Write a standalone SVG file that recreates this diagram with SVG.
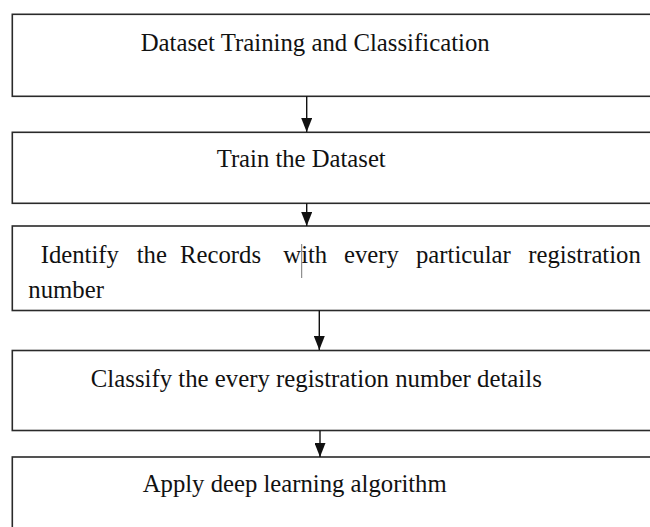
<svg xmlns="http://www.w3.org/2000/svg" width="650" height="527" viewBox="0 0 650 527">
<style>
.box{fill:#ffffff;stroke:#2a2a2a;stroke-width:1.6}
.t{font-family:"Liberation Serif","Times New Roman",serif;font-size:26px;fill:#111}
.con{stroke:#111;stroke-width:1.4;fill:none}
</style>
<defs>
<marker id="ah" markerWidth="14" markerHeight="11" refX="14" refY="5.5" orient="auto" markerUnits="userSpaceOnUse" viewBox="0 0 14 11">
<path d="M0,0 L14,5.5 L0,11 Z" fill="#111"/>
</marker>
</defs>
<rect width="650" height="527" fill="#ffffff"/>
<g id="node1">
<rect class="box" x="12.3" y="14.3" width="660" height="82"/>
<text class="t" x="140.7" y="50.7" textLength="349" lengthAdjust="spacingAndGlyphs">Dataset Training and Classification</text>
</g>
<g id="node2">
<rect class="box" x="12.3" y="132.3" width="660" height="71"/>
<text class="t" x="216.7" y="167.3" textLength="169" lengthAdjust="spacingAndGlyphs">Train the Dataset</text>
</g>
<g id="node3">
<rect class="box" x="12.3" y="226" width="660" height="84.5"/>
<text class="t" x="40.7" y="263.3" textLength="78.2" lengthAdjust="spacingAndGlyphs">Identify</text>
<text class="t" x="136.7" y="263.3" textLength="30.2" lengthAdjust="spacingAndGlyphs">the</text>
<text class="t" x="180" y="263.3" textLength="81" lengthAdjust="spacingAndGlyphs">Records</text>
<text class="t" x="283.3" y="263.3" textLength="43.9" lengthAdjust="spacingAndGlyphs">with</text>
<text class="t" x="344" y="263.3" textLength="54.9" lengthAdjust="spacingAndGlyphs">every</text>
<text class="t" x="416" y="263.3" textLength="94.7" lengthAdjust="spacingAndGlyphs">particular</text>
<text class="t" x="528.3" y="263.3" textLength="112.5" lengthAdjust="spacingAndGlyphs">registration</text>
<text class="t" x="28.3" y="298.3" textLength="75.6" lengthAdjust="spacingAndGlyphs">number</text>
<line x1="301.7" y1="244" x2="301.7" y2="278" stroke="#777" stroke-width="1"/>
</g>
<g id="node4">
<rect class="box" x="12.3" y="350.5" width="660" height="80"/>
<text class="t" x="90.8" y="386.7" textLength="451" lengthAdjust="spacingAndGlyphs">Classify the every registration number details</text>
</g>
<g id="node5">
<rect class="box" x="12.3" y="457" width="660" height="90"/>
<text class="t" x="142.7" y="491.7" textLength="304" lengthAdjust="spacingAndGlyphs">Apply deep learning algorithm</text>
</g>
<g id="connectors">
<line class="con" x1="306.7" y1="96.3" x2="306.7" y2="132" marker-end="url(#ah)"/>
<line class="con" x1="306.7" y1="203.3" x2="306.7" y2="226" marker-end="url(#ah)"/>
<line class="con" x1="319.3" y1="310.5" x2="319.3" y2="350" marker-end="url(#ah)"/>
<line class="con" x1="320" y1="430.5" x2="320" y2="457" stroke="#444" marker-end="url(#ah)"/>
</g>
</svg>
